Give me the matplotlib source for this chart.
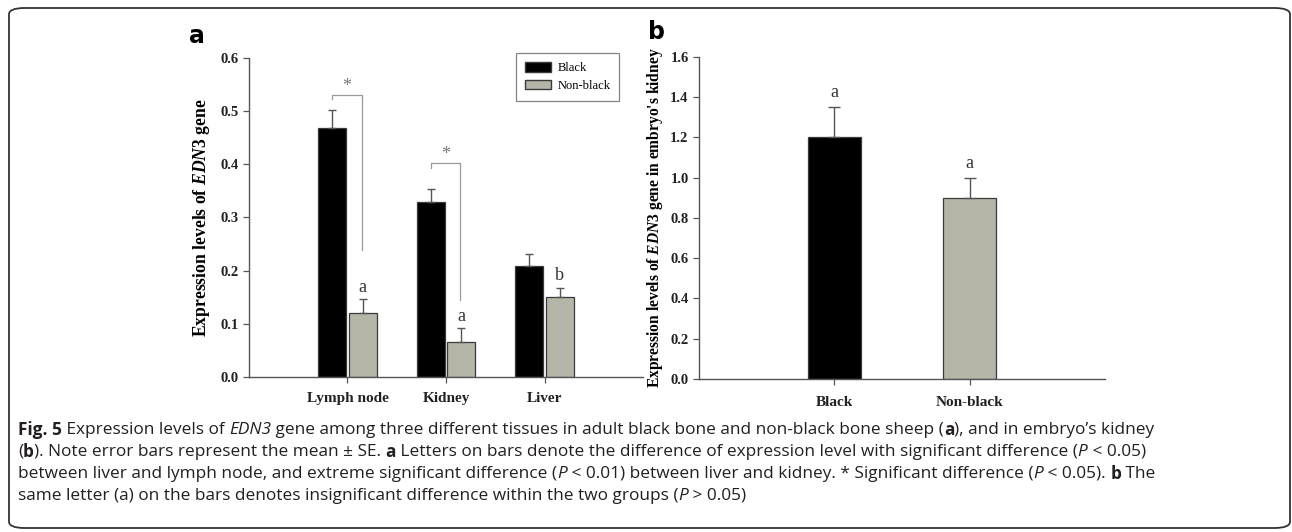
"""
Fig. 5 - EDN3 expression levels, adult tissues (a) and embryo kidney (b)
"""

import numpy as np
import matplotlib
matplotlib.use('Agg')
import matplotlib.pyplot as plt
from matplotlib.patches import FancyBboxPatch, Patch

# ---- data (a) ----
tissues = ['Lymph node', 'Kidney', 'Liver']
black_a = [0.468, 0.330, 0.208]
black_a_se = [0.034, 0.023, 0.024]
nonblack_a = [0.120, 0.065, 0.150]
nonblack_a_se = [0.027, 0.027, 0.018]
letters_a = ['a', 'a', 'b']
# significance brackets: (tissue index, bracket height, right leg end)
bracket_tissue = [0, 1]
bracket_top = [0.530, 0.402]
bracket_end = [0.239, 0.145]

# ---- data (b) ----
groups_b = ['Black', 'Non-black']
values_b = [1.20, 0.90]
se_b = [0.15, 0.10]
letters_b = ['a', 'a']

BLACK = '#000000'
GRAY = '#b5b6a8'
EDGE = '#3a3a3a'
AXC = '#555555'

plt.rcParams['font.family'] = 'Liberation Serif'
plt.rcParams['mathtext.fontset'] = 'custom'
plt.rcParams['mathtext.rm'] = 'Liberation Serif:bold'
plt.rcParams['mathtext.it'] = 'Liberation Serif:italic:bold'

fig = plt.figure(figsize=(12.92, 5.32), dpi=100)


def style_axes(ax):
    for s in ['top', 'right']:
        ax.spines[s].set_visible(False)
    for s in ['left', 'bottom']:
        ax.spines[s].set_color(AXC)
        ax.spines[s].set_linewidth(1.0)
    ax.tick_params(axis='both', colors=AXC, length=4, width=0.9,
                   labelsize=10.5, labelcolor='#222222')
    for lab in ax.get_yticklabels() + ax.get_xticklabels():
        lab.set_fontweight('bold')


# ---- panel a ----
ax = fig.add_axes([0.1927, 0.2914, 0.3050, 0.5996])
x = np.arange(1, len(tissues) + 1)
w = 0.28
off = 0.155
ax.bar(x - off, black_a, w, color=BLACK, edgecolor=EDGE, linewidth=0.9,
       yerr=[np.zeros(3), black_a_se], ecolor=AXC,
       error_kw=dict(capsize=3, elinewidth=1.0, capthick=1.0), label='Black')
ax.bar(x + off, nonblack_a, w, color=GRAY, edgecolor=EDGE, linewidth=0.9,
       yerr=[np.zeros(3), nonblack_a_se], ecolor=AXC,
       error_kw=dict(capsize=3, elinewidth=1.0, capthick=1.0), label='Non-black')
for i, let in enumerate(letters_a):
    ax.text(x[i] + off, nonblack_a[i] + nonblack_a_se[i] + 0.006, let,
            ha='center', va='bottom', fontsize=13, color='#333333')
for t, top, end in zip(bracket_tissue, bracket_top, bracket_end):
    xl = x[t] - off
    xr = x[t] + off - 0.01
    ax.plot([xl, xl, xr, xr], [top - 0.008, top, top, end],
            color='#9a9a9a', linewidth=0.9)
    ax.text((xl + xr) / 2, top + 0.001, '*', ha='center', va='bottom',
            fontsize=13, color='#777777')
ax.set_xlim(0, 4)
ax.set_ylim(0, 0.6)
ax.set_yticks(np.arange(0, 0.61, 0.1))
ax.set_yticklabels([f'{v:.1f}' for v in np.arange(0, 0.61, 0.1)])
ax.set_xticks(x)
ax.set_xticklabels(tissues)
ax.set_ylabel(r'Expression levels of $\mathit{EDN3}$ gene', fontsize=12.7,
              fontweight='bold', labelpad=6)
style_axes(ax)
ax.tick_params(axis='x', pad=7, labelsize=11)
handles = [Patch(facecolor=BLACK, edgecolor=EDGE), Patch(facecolor=GRAY, edgecolor=EDGE)]
leg = ax.legend(handles, ['Black', 'Non-black'], loc='upper right',
                bbox_to_anchor=(0.955, 1.034), fontsize=9, frameon=True,
                fancybox=False, edgecolor='#666666', handlelength=2.1,
                handleheight=0.8, borderpad=0.7, labelspacing=0.45,
                handletextpad=0.5)
leg.get_frame().set_linewidth(0.9)
fig.text(197 / 1292, 1 - 36 / 532, 'a', fontsize=17, fontweight='bold',
         family='DejaVu Sans', ha='center', va='center')

# ---- panel b ----
bx = fig.add_axes([0.5410, 0.2876, 0.3143, 0.6053])
xb = np.arange(1, len(groups_b) + 1)
bx.bar(xb, values_b, 0.39, color=[BLACK, GRAY], edgecolor=EDGE, linewidth=0.9,
       yerr=[np.zeros(2), se_b], ecolor=AXC,
       error_kw=dict(capsize=4, elinewidth=1.0, capthick=1.0))
for i, let in enumerate(letters_b):
    bx.text(xb[i], values_b[i] + se_b[i] + 0.03, let, ha='center',
            va='bottom', fontsize=13, color='#333333')
bx.set_xlim(0, 3)
bx.set_ylim(0, 1.6)
bx.set_yticks(np.arange(0, 1.61, 0.2))
bx.set_yticklabels([f'{v:.1f}' for v in np.arange(0, 1.61, 0.2)])
bx.set_xticks(xb)
bx.set_xticklabels(groups_b)
bx.set_ylabel(r"Expression levels of $\mathit{EDN3}$ gene in embryo's kidney",
              fontsize=11.2, fontweight='bold', labelpad=4)
style_axes(bx)
bx.tick_params(axis='x', pad=8, labelsize=11)
fig.text(656 / 1292, 1 - 32 / 532, 'b', fontsize=17, fontweight='bold',
         family='DejaVu Sans', ha='center', va='center')

# ---- frame ----
frame = FancyBboxPatch((9 / 1292, 4 / 532), 1281 / 1292, 520 / 532,
                       boxstyle='round,pad=0,rounding_size=0.012',
                       transform=fig.transFigure, facecolor='none',
                       edgecolor='#333333', linewidth=1.3)
fig.patches.append(frame)

# ---- caption ----
cap_font = 'Open Sans'
cap_size = 12.45
lines = [
    [('Fig. 5', 'bold', 'normal'), (' Expression levels of ', 'normal', 'normal'),
     ('EDN3', 'normal', 'italic'),
     (' gene among three different tissues in adult black bone and non-black bone sheep (', 'normal', 'normal'),
     ('a', 'bold', 'normal'), ("), and in embryo\u2019s kidney", 'normal', 'normal')],
    [('(', 'normal', 'normal'), ('b', 'bold', 'normal'),
     ('). Note error bars represent the mean \u00b1 SE. ', 'normal', 'normal'),
     ('a', 'bold', 'normal'),
     (' Letters on bars denote the difference of expression level with significant difference (', 'normal', 'normal'),
     ('P', 'normal', 'italic'), (' < 0.05)', 'normal', 'normal')],
    [('between liver and lymph node, and extreme significant difference (', 'normal', 'normal'),
     ('P', 'normal', 'italic'), (' < 0.01) between liver and kidney. * Significant difference (', 'normal', 'normal'),
     ('P', 'normal', 'italic'), (' < 0.05). ', 'normal', 'normal'),
     ('b', 'bold', 'normal'), (' The', 'normal', 'normal')],
    [('same letter (a) on the bars denotes insignificant difference within the two groups (', 'normal', 'normal'),
     ('P', 'normal', 'italic'), (' > 0.05)', 'normal', 'normal')],
]
line_y = [430, 452, 474, 496]

fig.canvas.draw()
renderer = fig.canvas.get_renderer()
for segs, yy in zip(lines, line_y):
    xpix = 18
    for txt, wt, st in segs:
        t = fig.text(xpix / 1292, 1 - yy / 532, txt, fontsize=cap_size,
                     fontweight=wt, fontstyle=st,
                     family=[cap_font, 'DejaVu Sans'], color='#231f20',
                     ha='left', va='center')
        bb = t.get_window_extent(renderer=renderer)
        xpix += bb.width

fig.savefig('out.png', dpi=100)
